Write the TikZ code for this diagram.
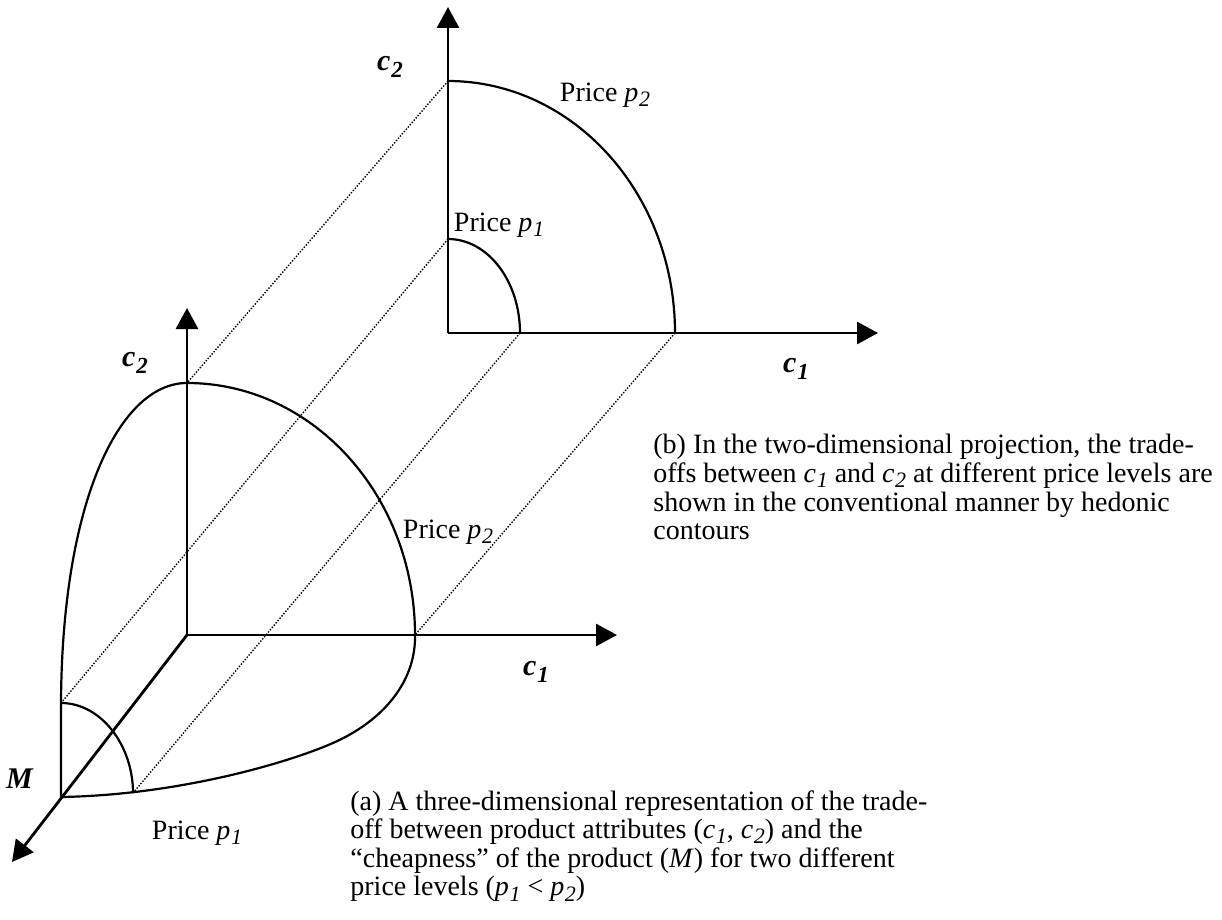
\documentclass[tikz,border=0pt]{standalone}
\usepackage{fontspec}
\setmainfont{Liberation Serif}
\usetikzlibrary{arrows.meta}
\newcommand\subs[1]{\kern0.3pt\raisebox{-0.4ex}{\fontsize{11}{11}\selectfont\textit{#1}}}
\newcommand\axlab[2]{\textbf{\textit{#1}}\kern0.5pt\raisebox{-0.5ex}{\fontsize{11.5}{11.5}\selectfont\textbf{\textit{#2}}}}
\begin{document}
\begin{tikzpicture}[x=0.5pt,y=-0.5pt,
  axis/.style={line width=1.4pt,-{Triangle[length=10.5pt,width=11pt]}},
  contour/.style={line width=1.1pt},
  proj/.style={line width=0.7pt,dash pattern=on 0.7pt off 0.8pt},
  axlabel/.style={font=\fontsize{15}{15}\selectfont, inner sep=0pt},
  price/.style={font=\fontsize{14}{14}\selectfont, inner sep=0pt},
  caption/.style={font=\fontsize{14}{14.3}\selectfont, align=left, inner sep=0pt, anchor=north west}]
\useasboundingbox (0,0) rectangle (1222,920);

% ---- top (b) axes
\coordinate (Ob) at (448,333);
\coordinate (Ob2) at (448,7);
\coordinate (Ob1) at (878,333);
\coordinate (b2y) at (448,81);
\coordinate (b2x) at (675,333);
\coordinate (b1y) at (448,239);
\coordinate (b1x) at (520,333);

% ---- bottom (a) axes
\coordinate (Oa) at (187,635);
\coordinate (Oa2) at (187,308);
\coordinate (Oa1) at (617,635);
\coordinate (OaM) at (12,862);
\coordinate (a2y) at (187,383);
\coordinate (a2x) at (415,635);
\coordinate (aM) at (61,797);
\coordinate (a1y) at (61,703);
\coordinate (a1x) at (133,793);
\coordinate (amid) at (333,743);

% projection lines
\draw[proj] (b2y) -- (a2y);
\draw[proj] (b1y) -- (a1y);
\draw[proj] (b1x) -- (a1x);
\draw[proj] (b2x) -- (a2x);

% axes
\draw[axis] (Ob) -- (Ob2);
\draw[axis] (Ob) -- (Ob1);
\draw[axis] (Oa) -- (Oa2);
\draw[axis] (Oa) -- (Oa1);
\draw[axis] (Oa) -- (OaM);

% top contours
\draw[contour] (b2y) .. controls (573.4,81) and (675,193.8) .. (b2x);
\draw[contour] (b1y) .. controls (487.8,239) and (520,281.1) .. (b1x);

% bottom 3-D contour p2
\draw[contour] (a2y) .. controls (312.9,383) and (415,495.8) .. (a2x)
  .. controls (416,680) and (385,720) .. (amid)
  .. controls (290,762) and (180,795) .. (aM)
  -- (a1y)
  .. controls (62,500) and (120,383) .. (a2y);
% bottom 3-D contour p1
\draw[contour] (a1y) .. controls (100.8,703) and (133,745) .. (a1x);

% axis labels
\node[axlabel] (lc2b) at (390,67) {\axlab{c}{2}};
\node[axlabel] (lc1b) at (796,369) {\axlab{c}{1}};
\node[axlabel] (lc2a) at (135,363) {\axlab{c}{2}};
\node[axlabel] (lc1a) at (536,672) {\axlab{c}{1}};
\node[axlabel] (lM) at (20,779) {\textbf{\textit{M}}};

% price labels
\node[price] (pb2) at (605,95) {Price \textit{p}\subs{2}};
\node[price] (pb1) at (499,225) {Price \textit{p}\subs{1}};
\node[price] (pa2) at (448,532) {Price \textit{p}\subs{2}};
\node[price] (pa1) at (197,833) {Price \textit{p}\subs{1}};

% captions
\node[caption] (capb) at (653,434) {(b) In the two-dimensional projection, the trade-\\
offs between \textit{c}\subs{1} and \textit{c}\subs{2} at different price levels are\\
shown in the conventional manner by hedonic\\
contours};
\node[caption] (capa) at (350,790) {(a) A three-dimensional representation of the trade-\\
off between product attributes (\textit{c}\subs{1}, \textit{c}\subs{2}) and the\\
“cheapness” of the product (\textit{M}) for two different\\
price levels (\textit{p}\subs{1} < \textit{p}\subs{2})};
\end{tikzpicture}
\end{document}
